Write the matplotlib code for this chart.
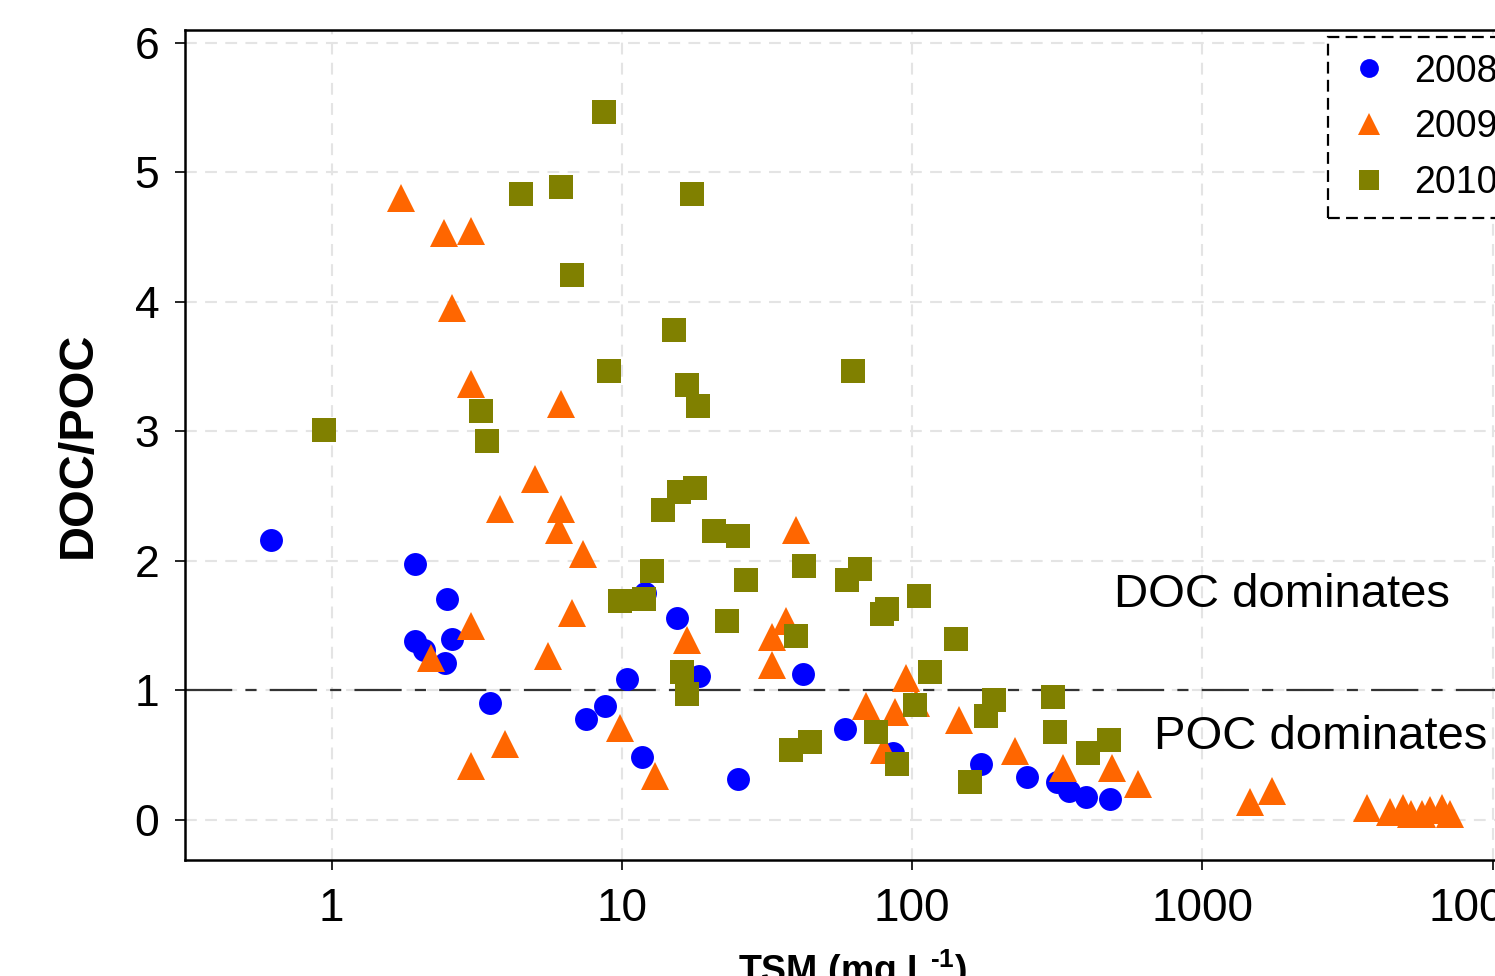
import matplotlib
matplotlib.use("Agg")
import matplotlib.pyplot as plt
from matplotlib.ticker import FixedLocator, FixedFormatter, NullLocator

plt.rcParams['font.family'] = ['Liberation Sans', 'DejaVu Sans']
plt.rcParams['lines.scale_dashes'] = False
plt.rcParams['mathtext.fontset'] = 'custom'
plt.rcParams['mathtext.rm'] = 'Liberation Sans:bold'
plt.rcParams['mathtext.bf'] = 'Liberation Sans:bold'

# ---- data ----
tsm_2008 = [0.62, 1.94, 1.94, 2.08, 2.50, 2.61, 2.46, 3.52, 7.54, 8.75, 10.4, 11.7, 12.0,
            15.5, 18.5, 25.2, 42, 58.9, 86, 173, 249, 315, 347, 398, 480]
ratio_2008 = [2.16, 1.98, 1.38, 1.31, 1.71, 1.40, 1.21, 0.90, 0.78, 0.88, 1.09, 0.49, 1.75,
              1.56, 1.11, 0.32, 1.13, 0.70, 0.52, 0.43, 0.33, 0.29, 0.22, 0.18, 0.16]

tsm_2009 = [1.74, 2.44, 3.02, 2.60, 3.02, 6.18, 5.03, 3.80, 6.18, 6.08, 7.35, 3.02, 2.20,
            6.73, 5.56, 3.96, 3.02, 9.86, 13.0, 16.8, 39.8, 36.7, 32.9, 32.9, 95.3, 69.4,
            87.3, 103, 80, 145, 226, 331, 488, 600, 1459, 1740, 3700, 4430, 4900, 5250,
            5700, 6080, 6700, 7130]
ratio_2009 = [4.80, 4.53, 4.55, 3.95, 3.37, 3.21, 2.63, 2.40, 2.40, 2.24, 2.05, 1.50, 1.25,
              1.60, 1.27, 0.59, 0.42, 0.71, 0.34, 1.39, 2.24, 1.54, 1.41, 1.20, 1.10, 0.88,
              0.83, 0.90, 0.54, 0.77, 0.53, 0.40, 0.40, 0.28, 0.135, 0.22, 0.09, 0.06, 0.09,
              0.05, 0.05, 0.08, 0.09, 0.05]

tsm_2010 = [8.69, 4.50, 6.18, 6.74, 9.04, 3.28, 3.42, 0.94, 17.5, 15.1, 16.8, 18.3, 62.5,
            9.88, 11.9, 12.7, 13.9, 15.7, 17.9, 20.8, 25.1, 26.7, 23.0, 42.4, 39.8, 16.1,
            16.8, 38.2, 44.5, 59.7, 66.3, 78.5, 81.8, 106, 142, 115, 102, 75, 89, 191, 180,
            158, 306, 311, 404, 476]
ratio_2010 = [5.47, 4.83, 4.89, 4.21, 3.47, 3.16, 2.93, 3.01, 4.83, 3.78, 3.36, 3.20, 3.47,
              1.69, 1.71, 1.92, 2.39, 2.53, 2.56, 2.23, 2.19, 1.85, 1.54, 1.96, 1.42, 1.14,
              0.97, 0.54, 0.60, 1.85, 1.94, 1.59, 1.63, 1.73, 1.40, 1.14, 0.89, 0.68, 0.43,
              0.93, 0.80, 0.29, 0.95, 0.68, 0.52, 0.62]

series_labels = ["2008", "2009", "2010"]
x_ticks = [1, 10, 100, 1000, 10000]
x_tick_labels = ["1", "10", "100", "1000", "10000"]
y_ticks = [0, 1, 2, 3, 4, 5, 6]
threshold = 1.0

# ---- figure ----
W, H = 1495, 976
fig = plt.figure(figsize=(W / 100, H / 100), dpi=100)
ax = fig.add_axes([185 / W, (H - 860) / H, (1521 - 185) / W, (860 - 30) / H])

ax.set_xscale('log')
ax.set_xlim(0.3128, 12520)
ax.set_ylim(-0.309, 6.10)

ax.plot(tsm_2008, ratio_2008, linestyle='none', marker='o', markersize=16.5,
        color='#0000FF', markeredgewidth=0, label=series_labels[0], zorder=3)
ax.plot(tsm_2009, ratio_2009, linestyle='none', marker='^', markersize=20,
        color='#FF6600', markeredgewidth=0, label=series_labels[1], zorder=4)
ax.plot(tsm_2010, ratio_2010, linestyle='none', marker='s', markersize=17,
        color='#808000', markeredgewidth=0, label=series_labels[2], zorder=5)

ax.axhline(threshold, color='#333333', linewidth=1.6, dashes=(34, 9.5, 8, 9.5), zorder=2)

ax.text(495, 1.645, "DOC dominates", fontsize=34, ha='left', va='baseline', zorder=6)
ax.text(680, 0.548, "POC dominates", fontsize=34, ha='left', va='baseline', zorder=6)

ax.xaxis.set_major_locator(FixedLocator(x_ticks))
ax.xaxis.set_major_formatter(FixedFormatter(x_tick_labels))
ax.xaxis.set_minor_locator(NullLocator())
ax.set_yticks(y_ticks)

ax.grid(True, which='major', color='#e4e4e4', linewidth=1.5, dashes=(8.5, 6))
ax.set_axisbelow(True)

for s in ax.spines.values():
    s.set_linewidth(1.8)
    s.set_color('black')

ax.tick_params(axis='x', direction='out', length=7.5, width=1.2, pad=12, labelsize=33)
ax.tick_params(axis='y', direction='out', length=7.5, width=1.2, pad=11, labelsize=32)

ax.set_ylabel("DOC/POC", fontsize=35, fontweight='bold', labelpad=24)
ax.set_xlabel(r"TSM (mg L$^{\text{-1}}$)", fontsize=27, fontweight='bold', labelpad=12)

leg = fig.legend(loc='upper left', bbox_to_anchor=(1328 / W, 1 - 37 / H),
                 bbox_transform=fig.transFigure, borderaxespad=0, fontsize=27,
                 markerscale=0.82, numpoints=1, handlelength=1.28, handletextpad=0.58,
                 borderpad=0.44, labelspacing=0.53, fancybox=False, framealpha=1)
frame = leg.get_frame()
frame.set_edgecolor('black')
frame.set_linewidth(1.6)
frame.set_linestyle((0, (8.5, 4.5)))

fig.savefig("out.png", dpi=100)
